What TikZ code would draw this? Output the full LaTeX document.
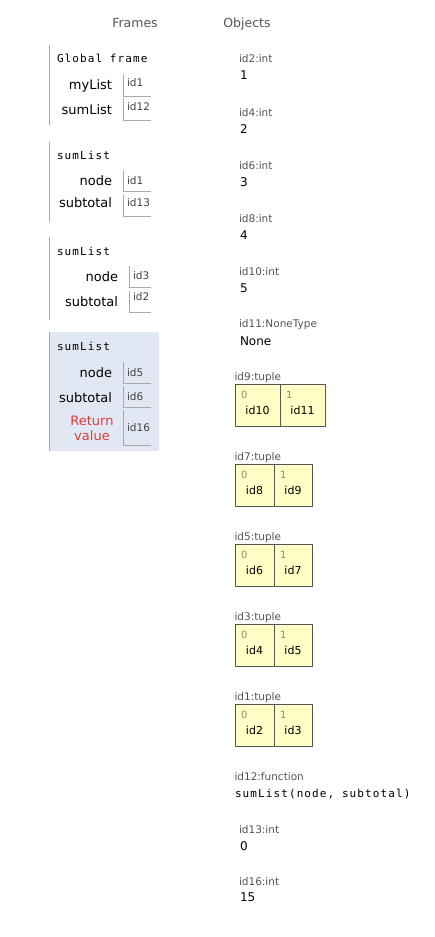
\documentclass[tikz,border=0pt]{standalone}
\usepackage{fontspec}
\setmainfont{DejaVu Sans}
\newfontfamily\codefont[LetterSpace=10]{DejaVu Sans Mono}
\definecolor{lblgray}{HTML}{555555}
\definecolor{refgray}{HTML}{444444}
\definecolor{idxgray}{HTML}{8A8A6A}
\definecolor{framegray}{HTML}{AAAAAA}
\definecolor{tupfill}{HTML}{FFFFC6}
\definecolor{tupborder}{HTML}{555555}
\definecolor{hlbg}{HTML}{E2E8F3}
\definecolor{retred}{HTML}{E33B3B}
\begin{document}
\begin{tikzpicture}[x=1pt,y=-1pt,
  every node/.style={inner sep=0pt, outer sep=0pt},
  hdr/.style={font=\fontsize{12.5}{14}\selectfont, text=lblgray, anchor=base},
  code/.style={font=\codefont\fontsize{11}{13}\selectfont, anchor=base west},
  var/.style={font=\fontsize{13}{15}\selectfont, anchor=base east},
  ref/.style={font=\fontsize{10.5}{12}\selectfont, text=refgray, anchor=base west},
  lbl/.style={font=\fontsize{10.5}{12}\selectfont, text=lblgray, anchor=base west},
  val/.style={font=\fontsize{12}{14}\selectfont, anchor=base west},
  idx/.style={font=\fontsize{10}{12}\selectfont, text=idxgray, anchor=base west},
  cell/.style={font=\fontsize{11}{13}\selectfont, anchor=base},
  tupcell/.style={draw=tupborder, fill=tupfill, line width=1pt, anchor=north west, minimum height=42pt},
  frameline/.style={draw=framegray, line width=1pt},
  refline/.style={draw=framegray, line width=1pt}]
\useasboundingbox (0,0) rectangle (435,937);

% headers
\node[hdr] (hframes) at (135,27.5) {Frames};
\node[hdr] (hobjects) at (247,27.5) {Objects};

% ---------- Global frame
\draw[frameline] (49,45) -- (49,125);
\node[code] (gf) at (57,62) {Global frame};
\node[var] (gmylist) at (112,89) {myList};
\draw[refline] (123,74) |- (151,96);
\node[ref] (gmylistv) at (127,86) {id1};
\node[var] (gsumlist) at (112,114) {sumList};
\draw[refline] (123,98) |- (151,120);
\node[ref] (gsumlistv) at (127,110) {id12};

% ---------- frame 2
\draw[frameline] (49,142) -- (49,222);
\node[code] (f2) at (57,159) {sumList};
\node[var] (f2node) at (112,185) {node};
\draw[refline] (123,170) |- (151,191);
\node[ref] (f2nodev) at (127,184.5) {id1};
\node[var] (f2sub) at (112,207.5) {subtotal};
\draw[refline] (123,195) |- (151,216);
\node[ref] (f2subv) at (127,206.5) {id13};

% ---------- frame 3
\draw[frameline] (49,237) -- (49,320);
\node[code] (f3) at (57,255) {sumList};
\node[var] (f3node) at (118,281) {node};
\draw[refline] (129,266) |- (151,287);
\node[ref] (f3nodev) at (133,279.5) {id3};
\node[var] (f3sub) at (118,306) {subtotal};
\draw[refline] (129,291) |- (151,312);
\node[ref] (f3subv) at (133,300) {id2};

% ---------- frame 4 (highlighted)
\fill[hlbg] (49,332) rectangle (159,451);
\draw[frameline] (49,332) -- (49,451);
\node[code] (f4) at (57,350) {sumList};
\node[var] (f4node) at (112,377.5) {node};
\draw[refline] (123,362) |- (151,383);
\node[ref] (f4nodev) at (127,376.5) {id5};
\node[var] (f4sub) at (112,402) {subtotal};
\draw[refline] (123,386) |- (151,407);
\node[ref] (f4subv) at (127,400.5) {id6};
\node[font=\fontsize{13}{15}\selectfont, text=retred, align=center, anchor=center] (f4ret) at (92,428.5) {Return\\value};
\draw[refline] (123,410) |- (151,445);
\node[ref] (f4retv) at (127,431.5) {id16};

% ---------- objects: ints
\node[lbl] (o2l) at (239,62) {id2:int};
\node[val] (o2v) at (240,79.5) {1};
\node[lbl] (o4l) at (239,116) {id4:int};
\node[val] (o4v) at (240,133) {2};
\node[lbl] (o6l) at (239,169) {id6:int};
\node[val] (o6v) at (240,186.5) {3};
\node[lbl] (o8l) at (239,222) {id8:int};
\node[val] (o8v) at (240,239.5) {4};
\node[lbl] (o10l) at (239,275) {id10:int};
\node[val] (o10v) at (240,292.5) {5};
\node[lbl] (o11l) at (239,327.5) {id11:NoneType};
\node[val] (o11v) at (240,345) {None};

% ---------- tuples
\node[lbl] (o9l) at (234.5,380) {id9:tuple};
\node[tupcell, minimum width=45pt] (o9a) at (235,384) {};
\node[tupcell, minimum width=45pt] (o9b) at (280,384) {};
\node[idx] (o9ai) at (241,398) {0};
\node[idx] (o9bi) at (286,398) {1};
\node[cell] (o9ac) at (257.5,414) {id10};
\node[cell] (o9bc) at (302.5,414) {id11};

\node[lbl] (o7l) at (234.5,460) {id7:tuple};
\node[tupcell, minimum width=39pt] (o7a) at (235,464) {};
\node[tupcell, minimum width=38pt] (o7b) at (274,464) {};
\node[idx] (o7ai) at (241,478) {0};
\node[idx] (o7bi) at (280,478) {1};
\node[cell] (o7ac) at (254.5,494) {id8};
\node[cell] (o7bc) at (293,494) {id9};

\node[lbl] (o5l) at (234.5,540) {id5:tuple};
\node[tupcell, minimum width=39pt] (o5a) at (235,544) {};
\node[tupcell, minimum width=38pt] (o5b) at (274,544) {};
\node[idx] (o5ai) at (241,558) {0};
\node[idx] (o5bi) at (280,558) {1};
\node[cell] (o5ac) at (254.5,574) {id6};
\node[cell] (o5bc) at (293,574) {id7};

\node[lbl] (o3l) at (234.5,620) {id3:tuple};
\node[tupcell, minimum width=39pt] (o3a) at (235,624) {};
\node[tupcell, minimum width=38pt] (o3b) at (274,624) {};
\node[idx] (o3ai) at (241,638) {0};
\node[idx] (o3bi) at (280,638) {1};
\node[cell] (o3ac) at (254.5,654) {id4};
\node[cell] (o3bc) at (293,654) {id5};

\node[lbl] (o1l) at (234.5,700) {id1:tuple};
\node[tupcell, minimum width=39pt] (o1a) at (235,704) {};
\node[tupcell, minimum width=38pt] (o1b) at (274,704) {};
\node[idx] (o1ai) at (241,718) {0};
\node[idx] (o1bi) at (280,718) {1};
\node[cell] (o1ac) at (254.5,734) {id2};
\node[cell] (o1bc) at (293,734) {id3};

% ---------- function and remaining ints
\node[lbl] (o12l) at (234.5,780) {id12:function};
\node[code] (o12v) at (235,797) {sumList(node, subtotal)};
\node[lbl] (o13l) at (239,833) {id13:int};
\node[val] (o13v) at (240,850.5) {0};
\node[lbl] (o16l) at (239,885) {id16:int};
\node[val] (o16v) at (240,901.5) {15};
\end{tikzpicture}
\end{document}
